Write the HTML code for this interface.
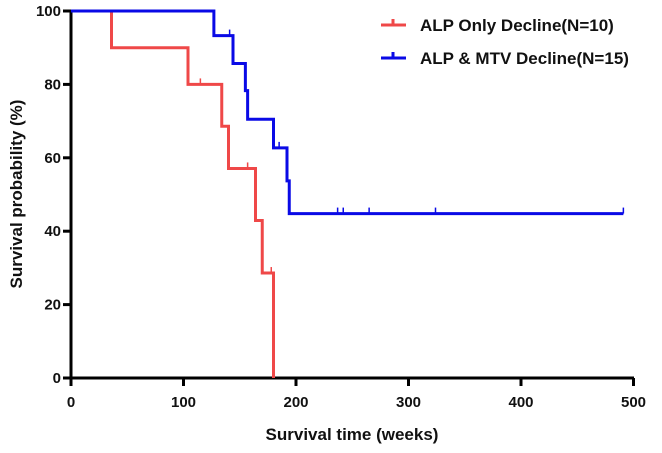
<!DOCTYPE html><html><head><meta charset="utf-8"><style>
body{margin:0;background:#fff;width:662px;height:448px;overflow:hidden}
text{font-family:"Liberation Sans",Arial,sans-serif;font-weight:bold}
</style></head><body>
<svg id="c" width="662" height="448"></svg>
<script>
const xTicks=[0,100,200,300,400,500];
const yTicks=[0,20,40,60,80,100];
const redTimes=[0,36,104,134,140,164,170,180];
const redSurv=[100,90,80,68.6,57.1,42.9,28.6,0];
const redCensor=[115,157,178];
const blueTimes=[0,127,144,155,157,180,192,194];
const blueSurv=[100,93.3,85.7,78.3,70.5,62.7,53.7,44.8];
const blueEnd=491;
const blueCensor=[141,185,237,242,265,324,491];
const X=t=>71+t*1.125, Y=s=>378-s*3.67;
const svg=document.getElementById('c');const NS='http://www.w3.org/2000/svg';
function mk(tag,at,txt){const e=document.createElementNS(NS,tag);for(const k in at)e.setAttribute(k,at[k]);if(txt!=null)e.textContent=txt;svg.appendChild(e);return e;}
function series(times,surv,end,cens,color,name){
 let d='M'+X(times[0])+','+Y(surv[0]);
 for(let i=1;i<times.length;i++){d+=' H'+X(times[i])+' V'+Y(surv[i]);}
 if(end!=null)d+=' H'+X(end);
 const p=mk('path',{d:d,fill:'none',stroke:color,'stroke-width':3});
 
 
 cens.forEach(c=>{let s=surv[0];for(let i=0;i<times.length;i++)if(times[i]<=c)s=surv[i];
  const l=mk('line',{x1:X(c),x2:X(c),y1:Y(s),y2:Y(s)-6,stroke:color,'stroke-width':1.5});
  
  });
}
// axes
const ax=mk('path',{d:'M71,10 V378 H634',fill:'none',stroke:'#000','stroke-width':3});


xTicks.forEach(t=>{const l=mk('line',{x1:X(t),x2:X(t),y1:378,y2:386,stroke:'#000','stroke-width':3});
 
 
 const tx=mk('text',{x:X(t),y:407,'text-anchor':'middle','font-size':15,fill:'#111'},t);
 
 });
yTicks.forEach(t=>{const l=mk('line',{x1:63,x2:71,y1:Y(t),y2:Y(t),stroke:'#000','stroke-width':3});
 
 
 const tx=mk('text',{x:61,y:Y(t)+5,'text-anchor':'end','font-size':15,fill:'#111'},t);
 
 });
series(redTimes,redSurv,null,redCensor,'#ef4848','alp-only');
series(blueTimes,blueSurv,blueEnd,blueCensor,'#0a0ae6','alp-mtv');
const xt=mk('text',{x:352,y:440,'text-anchor':'middle','font-size':17,fill:'#111'},'Survival time (weeks)');


const yt=mk('text',{x:0,y:0,'text-anchor':'middle','font-size':17,fill:'#111',transform:'translate(22,194) rotate(-90)'},'Survival probability (%)');


[['ALP Only Decline(N=10)','#ef4848',25],['ALP & MTV Decline(N=15)','#0a0ae6',58]].forEach(([t,c,y])=>{
 const l=mk('path',{d:`M381,${y} H406 M393,${y} V${y-6}`,stroke:c,'stroke-width':3,fill:'none'});
 
 
 const tx=mk('text',{x:420,y:y+6,'font-size':17,fill:'#111'},t);
 
 });
</script></body></html>
